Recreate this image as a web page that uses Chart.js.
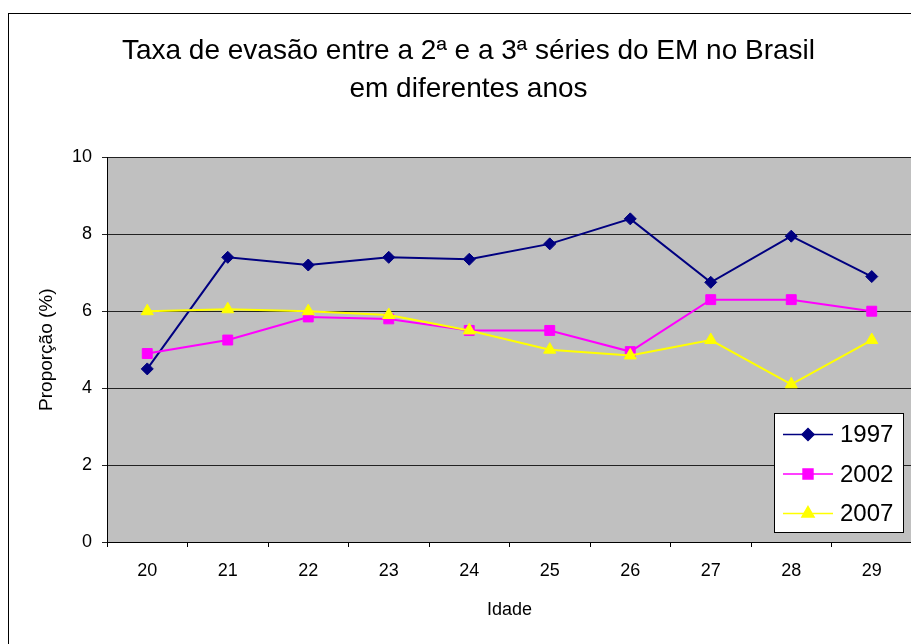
<!DOCTYPE html>
<html lang="pt-BR">
<head>
<meta charset="utf-8">
<title>Taxa de evasão</title>
<script src="https://cdn.jsdelivr.net/npm/chart.js@4.4.1/dist/chart.umd.min.js"></script>
<style>
	html, body { margin: 0; padding: 0; background: #fff; overflow: hidden; width: 911px; height: 644px; }
	.frame { position: absolute; left: 8px; top: 13px; width: 960px; height: 700px; border: 1px solid #000; }
	.chart-box { position: absolute; left: 0; top: 0; width: 920px; height: 640px; }
</style>
</head>
<body>
<div class="frame">
	<div class="chart-box"><canvas id="chart-evasao"></canvas></div>
</div>
<script>
// :: 1.0 Dados
var idades = ['20', '21', '22', '23', '24', '25', '26', '27', '28', '29'];
var anos = ['1997', '2002', '2007'];
var taxa1997 = [4.5, 7.4, 7.2, 7.4, 7.35, 7.75, 8.4, 6.75, 7.95, 6.9];
var taxa2002 = [4.9, 5.25, 5.85, 5.8, 5.5, 5.5, 4.95, 6.3, 6.3, 6.0];
var taxa2007 = [6.0, 6.05, 6.0, 5.9, 5.5, 5.0, 4.85, 5.25, 4.1, 5.25];
var titulo = ['Taxa de evasão entre a 2ª e a 3ª séries do EM no Brasil', 'em diferentes anos'];

var fonte = '"Liberation Sans", Arial, sans-serif';

// :: 2.0 Fundo cinza da área do gráfico
var plotBg = {
	id: 'plotBg',
	beforeDraw: function (chart) {
		var a = chart.chartArea;
		chart.ctx.save();
		chart.ctx.fillStyle = '#c0c0c0';
		chart.ctx.fillRect(a.left, a.top, a.right - a.left, a.bottom - a.top);
		chart.ctx.restore();
	}
};

// :: 3.0 Legenda dentro da área
var legendBox = {
	id: 'legendBox',
	afterDraw: function (chart) {
		var ctx = chart.ctx, a = chart.chartArea;
		var w = 129, h = 119;
		var x = a.right - 9 - w, y = a.bottom - 10 - h;
		ctx.save();
		ctx.fillStyle = '#fff';
		ctx.fillRect(x, y, w, h);
		ctx.strokeStyle = '#000';
		ctx.lineWidth = 1;
		ctx.strokeRect(Math.round(x) + 0.5, Math.round(y) + 0.5, w, h);
		chart.data.datasets.forEach(function (ds, i) {
			var cy = y + 21.5 + i * 39.5;
			ctx.strokeStyle = ds.borderColor;
			ctx.lineWidth = 1.5;
			ctx.beginPath();
			ctx.moveTo(x + 9, cy);
			ctx.lineTo(x + 59, cy);
			ctx.stroke();
			ctx.fillStyle = ds.pointBackgroundColor;
			ctx.strokeStyle = ds.pointBorderColor;
			Chart.helpers.drawPoint(ctx, { pointStyle: ds.pointStyle, radius: ds.pointRadius, borderWidth: 1, rotation: 0 }, x + 34, cy);
			ctx.fillStyle = '#000';
			ctx.font = '24px ' + fonte;
			ctx.textAlign = 'left';
			ctx.textBaseline = 'middle';
			ctx.fillText(ds.label, x + 66, cy + 1);
		});
		ctx.restore();
	}
};

function serie(label, data, cor, estilo, raio, ordem) {
	return {
		label: label,
		data: data,
		borderColor: cor,
		backgroundColor: cor,
		pointBackgroundColor: cor,
		pointBorderColor: cor,
		pointStyle: estilo,
		pointRadius: raio,
		pointBorderWidth: 1,
		borderWidth: 2,
		tension: 0,
		order: ordem
	};
}

// :: 4.0 Chartjs
var ctx = document.getElementById('chart-evasao').getContext('2d');
new Chart(ctx, {
	type: 'line',
	data: {
		labels: idades,
		datasets: [
			serie(anos[0], taxa1997, '#000080', 'rectRot', 6, 2),
			serie(anos[1], taxa2002, '#ff00ff', 'rect', 7, 1),
			serie(anos[2], taxa2007, '#ffff00', 'triangle', 7, 0)
		]
	},
	options: {
		responsive: true,
		maintainAspectRatio: false,
		animation: false,
		layout: {
			padding: { left: 16, right: 17, top: 0, bottom: 22 }
		},
		plugins: {
			legend: { display: false },
			tooltip: { enabled: false },
			title: {
				display: true,
				text: titulo,
				color: '#000',
				font: { family: fonte, size: 28, weight: 'normal', lineHeight: 1.37 },
				padding: { top: 18, bottom: 48.6 }
			}
		},
		scales: {
			x: {
				offset: true,
				grid: {
					offset: true,
					drawOnChartArea: false,
					drawTicks: true,
					tickLength: 5,
					color: '#000'
				},
				border: { color: '#000', width: 1 },
				ticks: { color: '#000', font: { family: fonte, size: 18 }, padding: 13.5, maxRotation: 0 },
				title: {
					display: true,
					text: 'Idade',
					color: '#000',
					font: { family: fonte, size: 18 },
					padding: { top: 0, bottom: 11 }
				},
				afterFit: function (scale) { scale.height = 90; }
			},
			y: {
				min: 0,
				max: 10,
				ticks: { stepSize: 2, color: '#000', font: { family: fonte, size: 18 }, padding: 10 },
				grid: { color: '#222', tickLength: 5, lineWidth: 1 },
				border: { color: '#000', width: 1 },
				title: {
					display: true,
					text: 'Proporção (%)',
					color: '#000',
					font: { family: fonte, size: 19 },
					padding: { top: 10, bottom: 0 }
				},
				afterFit: function (scale) { scale.width = 82; }
			}
		}
	},
	plugins: [plotBg, legendBox]
});
</script>
</body>
</html>
